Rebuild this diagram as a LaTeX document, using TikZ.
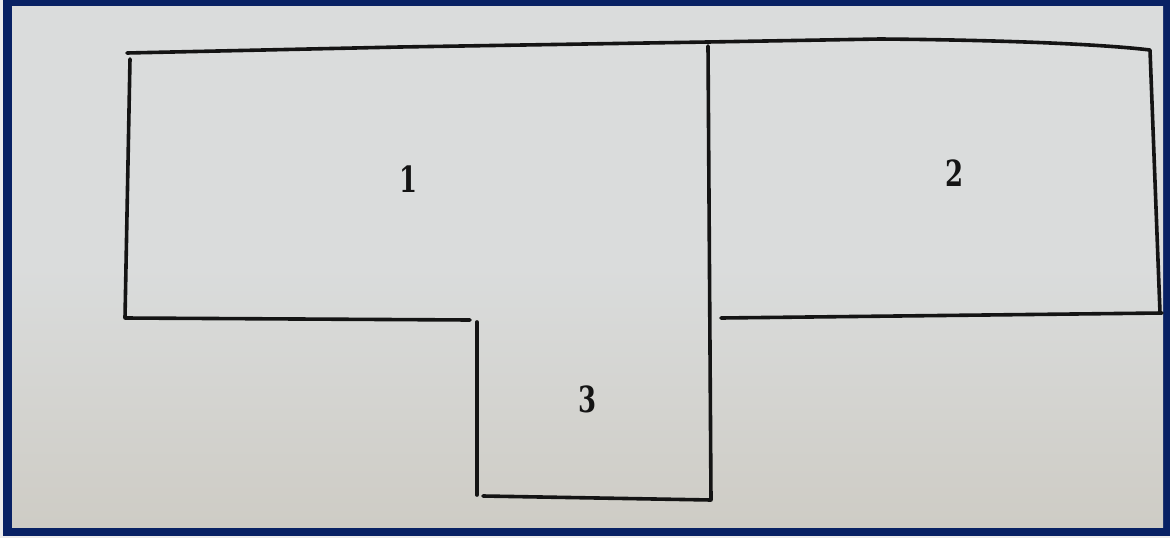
\documentclass[tikz,border=0pt]{standalone}
\usepackage{fontspec}
\newfontfamily\numfont{DejaVu Serif}
\usetikzlibrary{calc}
\definecolor{navy}{RGB}{8,33,100}
\definecolor{papertop}{RGB}{218,220,220}
\definecolor{paperbot}{RGB}{206,204,197}
\definecolor{ink}{RGB}{20,20,20}
\newcommand{\roomnum}[1]{\scalebox{0.72}[1]{#1}}
\tikzset{
  wall/.style={draw=ink, line width=3.6pt, line cap=round, line join=round},
  roomlabel/.style={font=\numfont\fontsize{36}{36}\selectfont\bfseries, text=ink, inner sep=0pt}
}
\begin{document}
\begin{tikzpicture}[x=1pt,y=-1pt]
\useasboundingbox (0,0) rectangle (1170,538);
% outer frame
\fill[white!85!gray] (0,0) rectangle (1170,538);
\fill[navy] (3,0) rectangle (1170,536);
\shade[top color=papertop, bottom color=paperbot, middle color=papertop] (12,6) rectangle (1163,527);
% coordinates of the plan
\coordinate (tl) at (127,53);
\coordinate (ta) at (400,47);
\coordinate (tb) at (708,42);
\coordinate (tc) at (880,39);
\coordinate (tr) at (1150,50);
\coordinate (br) at (1160,313);
\coordinate (lv1) at (130,59);
\coordinate (lv2) at (125,318);
\coordinate (b1) at (470,320);
\coordinate (c3a) at (477,322);
\coordinate (c3b) at (477,495);
\coordinate (c3c) at (483,496);
\coordinate (c3d) at (711,500);
\coordinate (dv) at (708,46);
\coordinate (r2a) at (721,318);
\coordinate (r2b) at (1162,313);
% walls
\draw[wall] (tl) -- (ta) -- (tb) -- (tc) .. controls (1000,40) and (1100,44) .. (tr) -- (br);
\draw[wall] (lv1) -- (lv2) -- (b1);
\draw[wall] (c3a) -- (c3b);
\draw[wall] (c3c) -- (c3d) -- (dv);
\draw[wall] (r2a) -- (r2b);
% labels
\node[roomlabel] (n1) at (409,179) {\roomnum{1}};
\node[roomlabel] (n2) at (955,173) {\roomnum{2}};
\node[roomlabel] (n3) at (588,399) {\roomnum{3}};
\end{tikzpicture}
\end{document}
